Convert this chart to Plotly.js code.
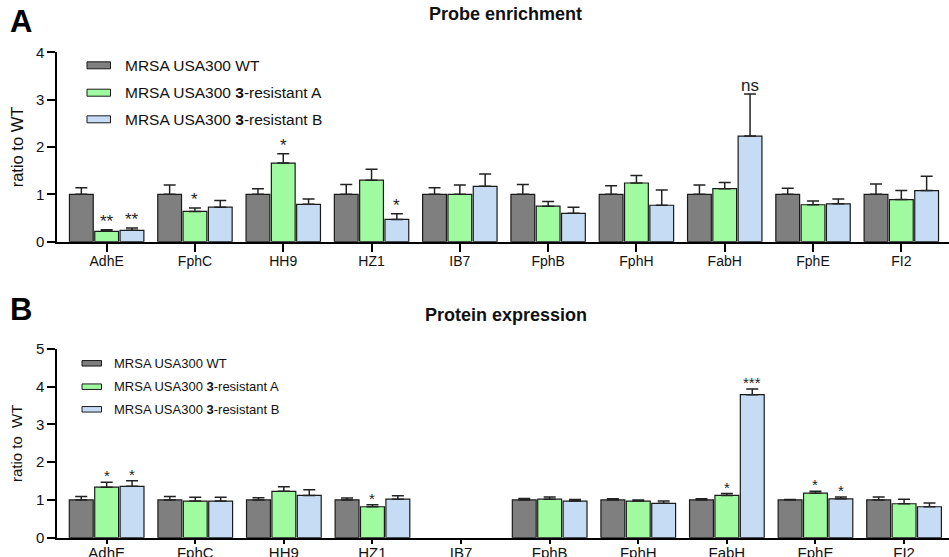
<!DOCTYPE html>
<html>
<head>
<meta charset="utf-8">
<script src="https://cdn.plot.ly/plotly-3.0.1.min.js"></script>
<style>html,body{margin:0;padding:0;background:#fff;}#chart{width:949px;height:557px;}</style>
</head>
<body>
<div id="chart"></div>
<script>
// ---- data ----
const categories = ['AdhE','FphC','HH9','HZ1','IB7','FphB','FphH','FabH','FphE','FI2'];
const seriesNames = ['MRSA USA300 WT','MRSA USA300 <b>3</b>-resistant A','MRSA USA300 <b>3</b>-resistant B'];

// Panel A: probe enrichment (ratio to WT), upper error
const probeWT    = [1.00,1.00,1.00,1.00,1.00,1.00,1.00,1.00,1.00,1.00];
const probeWTErr = [0.14,0.20,0.12,0.21,0.14,0.21,0.18,0.20,0.13,0.22];
const probeA     = [0.22,0.64,1.66,1.30,1.00,0.75,1.24,1.12,0.78,0.89];
const probeAErr  = [0.03,0.07,0.20,0.23,0.20,0.10,0.16,0.13,0.08,0.19];
const probeB     = [0.24,0.73,0.79,0.47,1.17,0.60,0.77,2.23,0.80,1.08];
const probeBErr  = [0.05,0.14,0.11,0.12,0.26,0.13,0.32,0.89,0.10,0.30];
const probeSigA  = ['**','*','*','','','','','','',''];
const probeSigB  = ['**','','','*','','','','ns','',''];

// Panel B: protein expression (ratio to WT), upper error
const protWT    = [1.00,1.00,1.00,1.00,null,1.00,1.00,1.00,1.00,1.00];
const protWTErr = [0.09,0.09,0.06,0.05,null,0.04,0.03,0.03,0.01,0.08];
const protA     = [1.34,0.97,1.23,0.82,null,1.02,0.97,1.12,1.18,0.90];
const protAErr  = [0.13,0.10,0.12,0.05,null,0.06,0.03,0.05,0.05,0.12];
const protB     = [1.36,0.97,1.12,1.02,null,0.97,0.91,3.79,1.03,0.82];
const protBErr  = [0.15,0.10,0.15,0.09,null,0.04,0.06,0.15,0.05,0.10];
const protSigA  = ['*','','','*','','','','*','*',''];
const protSigB  = ['*','','','','','','','***','*',''];

// ---- styles ----
const colors = ['#7f7f7f','#a0fba0','#c6dcf5'];
const W = 949, H = 557;
const px = x => x / W;
const py = y => 1 - y / H;
const idx = categories.map((c,i)=>i);
const FONT = 'Liberation Sans, Arial, sans-serif';

function barTrace(vals, errs, ci, xa, ya, capw) {
  return {
    type: 'bar', x: idx, y: vals, xaxis: xa, yaxis: ya,
    name: seriesNames[ci], showlegend: false,
    marker: {color: colors[ci], line: {color: '#1a1a1a', width: 1.2}},
    error_y: {type: 'data', symmetric: false, array: errs,
              arrayminus: errs.map(()=>0), color: '#222', thickness: 1.5, width: capw},
    hoverinfo: 'skip'
  };
}

const data = [
  barTrace(probeWT, probeWTErr, 0, 'x', 'y', 6),
  barTrace(probeA, probeAErr, 1, 'x', 'y', 6),
  barTrace(probeB, probeBErr, 2, 'x', 'y', 6),
  barTrace(protWT, protWTErr, 0, 'x2', 'y2', 6),
  barTrace(protA, protAErr, 1, 'x2', 'y2', 6),
  barTrace(protB, protBErr, 2, 'x2', 'y2', 6)
];

const annotations = [];
const shapes = [];
const OFF = 0.288;
function addSig(sig, vals, errs, off, xr, yr, size, ys) {
  sig.forEach((s,i)=>{
    if (!s) return;
    annotations.push({x: i + off, y: vals[i] + errs[i], xref: xr, yref: yr,
      text: s, showarrow: false, yanchor: 'bottom', yshift: ys,
      font: {family: FONT, size: size, color: '#222'}});
  });
}
addSig(probeSigA, probeA, probeAErr, 0, 'x', 'y', 17, -3);
addSig(probeSigB, probeB, probeBErr, OFF, 'x', 'y', 17, -3);
addSig(protSigA, protA, protAErr, 0, 'x2', 'y2', 15, -4);
addSig(protSigB, protB, protBErr, OFF, 'x2', 'y2', 15, -4);

// panel letters & titles
annotations.push({x: px(21), y: py(21), xref:'paper', yref:'paper', xanchor:'center', yanchor:'middle',
  text:'<b>A</b>', showarrow:false, font:{family:FONT, size:31, color:'#000'}});
annotations.push({x: px(21), y: py(309), xref:'paper', yref:'paper', xanchor:'center', yanchor:'middle',
  text:'<b>B</b>', showarrow:false, font:{family:FONT, size:31, color:'#000'}});
annotations.push({x: px(505), y: py(14), xref:'paper', yref:'paper', xanchor:'center', yanchor:'middle',
  text:'<b>Probe enrichment</b>', showarrow:false, font:{family:FONT, size:18, color:'#111'}});
annotations.push({x: px(506), y: py(315), xref:'paper', yref:'paper', xanchor:'center', yanchor:'middle',
  text:'<b>Protein expression</b>', showarrow:false, font:{family:FONT, size:18, color:'#111'}});

// custom legends
function legend(x0, x1, rows, h, tx, fs) {
  rows.forEach((yc, k)=>{
    shapes.push({type:'rect', xref:'paper', yref:'paper', x0:px(x0), x1:px(x1),
      y0:py(yc + h/2), y1:py(yc - h/2), fillcolor: colors[k], line:{color:'#1a1a1a', width:1}});
    annotations.push({x: px(tx), y: py(yc), xref:'paper', yref:'paper', text: seriesNames[k],
      showarrow:false, xanchor:'left', yanchor:'middle', font:{family:FONT, size:fs, color:'#111'}});
  });
}
legend(87, 110.5, [65.3, 92.7, 119.3], 7, 123, 15.5);
legend(82, 101.5, [363.3, 386.7, 409.3], 5.5, 112, 13);

const axisCommon = {showline: true, linecolor: '#000', linewidth: 2, ticks: 'outside',
  tickcolor: '#000', tickwidth: 2, showgrid: false, zeroline: false,
  tickfont: {family: FONT, size: 15, color: '#111'}};

const layout = {
  width: W, height: H,
  margin: {l:0, r:0, t:0, b:0},
  paper_bgcolor: '#fff', plot_bgcolor: '#fff',
  barmode: 'group', bargap: 0.14, bargroupgap: 0.06,
  showlegend: false,
  xaxis: Object.assign({}, axisCommon, {domain: [px(57.3), 1], range: [-0.559, 9.54],
    tickvals: idx, ticktext: categories, ticklen: 8, anchor: 'y', ticklabelstandoff: -3,
    tickfont: {family: FONT, size: 14, color: '#111'}}),
  yaxis: Object.assign({}, axisCommon, {domain: [py(241.7), py(52.3)], range: [0, 4],
    tickvals: [0,1,2,3,4], ticklen: 8, anchor: 'x',
    title: {text: 'ratio to WT', standoff: 8, font: {family: FONT, size: 16.5, color: '#111'}}}),
  xaxis2: Object.assign({}, axisCommon, {domain: [px(57.3), 1], range: [-0.557, 9.507],
    tickvals: idx, ticktext: categories, ticklen: 4, anchor: 'y2', ticklabelstandoff: -4,
    tickfont: {family: FONT, size: 15, color: '#111'}}),
  yaxis2: Object.assign({}, axisCommon, {domain: [py(537.7), py(349)], range: [0, 5],
    tickvals: [0,1,2,3,4,5], ticklen: 8, anchor: 'x2',
    title: {text: 'ratio to  WT', standoff: 10, font: {family: FONT, size: 15, color: '#111'}}}),
  annotations: annotations,
  shapes: shapes
};

Plotly.newPlot('chart', data, layout, {staticPlot: true, displayModeBar: false});
</script>
</body>
</html>
